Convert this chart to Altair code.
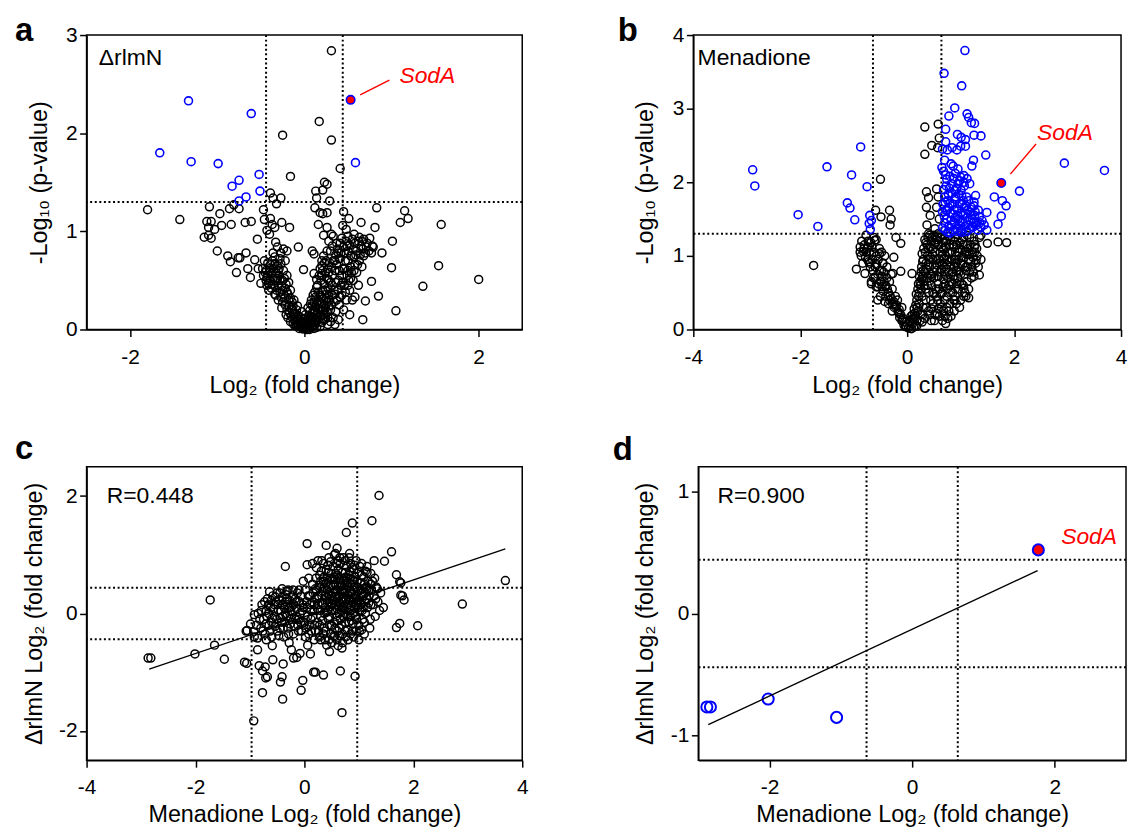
import altair as alt
import pandas as pd

FONT = "Liberation Sans"
BLUE = "#0000FF"
RED = "#FF0000"

# ---------------- Panel a : ΔrlmN volcano ----------------
a_black = [
    (0.31, 2.84), (0.17, 2.12), (-0.25, 1.98), (0.31, 1.93), (0.41, 1.64), (-0.16, 1.56),
    (0.23, 1.50), (0.26, 1.48), (0.13, 1.41), (0.21, 1.42), (0.14, 1.34), (0.29, 1.31),
    (-0.39, 1.39), (-0.36, 1.34), (-0.27, 1.34), (-0.32, 1.28),
    (-1.80, 1.22), (-1.43, 1.12), (-1.09, 1.25), (-0.97, 1.18), (-0.86, 1.23), (-0.81, 1.27), (-0.75, 1.23),
    (-1.12, 1.10), (-1.07, 1.10), (-1.10, 1.04), (-1.03, 1.02), (-0.95, 1.06), (-0.84, 1.07), (-0.68, 1.09),
    (-0.61, 1.10), (-1.15, 0.94), (-1.10, 0.96), (-1.07, 0.93), (-1.00, 0.80), (-0.88, 0.75), (-0.85, 0.69),
    (-0.76, 0.73), (-0.74, 0.73), (-0.67, 0.78), (-0.57, 0.71), (-0.78, 0.58), (-0.65, 0.62), (-0.62, 0.53),
    (-0.53, 0.62), (-0.50, 0.47), (-0.54, 0.92), (-0.47, 1.22), (-0.46, 1.12), (-0.39, 1.13), (-0.43, 1.01),
    (-0.40, 0.97), (-0.34, 1.04), (-0.37, 1.07), (-0.26, 1.09), (-0.17, 1.04), (-0.33, 0.89), (-0.31, 0.84),
    (-0.24, 0.82), (-0.20, 0.80), (-0.07, 0.84), (-0.01, 0.61), (0.09, 0.80), (0.11, 0.77), (-0.34, 0.67),
    (-0.27, 0.67), (-0.40, 0.59), (-0.43, 0.53), (-0.33, 0.35), (-0.25, 0.40),
    (0.12, 1.24), (0.18, 1.19), (0.21, 1.18), (0.26, 1.19), (0.45, 1.20), (0.51, 1.13), (0.16, 1.07),
    (0.26, 1.04), (0.31, 0.97), (0.22, 0.96), (0.44, 1.06), (0.48, 1.02), (0.65, 1.09), (0.83, 1.24),
    (0.81, 1.04), (1.10, 1.09), (1.15, 1.21), (1.19, 1.13), (1.57, 1.07), (1.01, 0.90), (0.89, 0.78),
    (0.77, 0.78), (0.79, 0.84), (1.00, 0.63), (1.54, 0.65), (2.00, 0.51), (1.36, 0.44), (1.05, 0.19),
    (0.85, 0.34), (0.70, 0.29), (0.77, 0.49), (0.67, 0.10), (0.58, 0.33), (0.52, 0.15), (0.20, 0.65),
    (0.28, 0.50), (0.11, 0.57), (0.14, 0.43),
]
a_black_core = [
    (-0.48, 0.62), (-0.45, 0.58), (-0.42, 0.55), (-0.40, 0.62), (-0.38, 0.57), (-0.36, 0.52), (-0.44, 0.50),
    (-0.41, 0.47), (-0.35, 0.45), (-0.33, 0.50), (-0.38, 0.42), (-0.32, 0.40), (-0.30, 0.45), (-0.28, 0.38),
    (-0.34, 0.36), (-0.27, 0.33), (-0.30, 0.30), (-0.25, 0.28), (-0.23, 0.32), (-0.22, 0.25), (-0.26, 0.22),
    (-0.20, 0.20), (-0.18, 0.24), (-0.17, 0.17), (-0.21, 0.15), (-0.15, 0.13), (-0.13, 0.16), (-0.12, 0.10),
    (-0.16, 0.08), (-0.10, 0.07), (-0.08, 0.09), (-0.07, 0.05), (-0.11, 0.04), (-0.05, 0.03), (-0.03, 0.02),
    (-0.06, 0.01), (-0.02, 0.005), (-0.29, 0.55), (-0.25, 0.50), (-0.22, 0.42), (-0.19, 0.36), (-0.24, 0.60),
    (-0.31, 0.65), (-0.37, 0.70), (-0.14, 0.28), (-0.28, 0.72), (-0.20, 0.55), (-0.42, 0.68), (-0.46, 0.70),
    (-0.36, 0.78), (-0.30, 0.60), (-0.16, 0.40), (-0.12, 0.30), (-0.09, 0.20), (-0.04, 0.12),
    (0.00, 0.01), (0.02, 0.02), (0.04, 0.00), (0.06, 0.03), (0.03, 0.05), (0.08, 0.06), (0.05, 0.08),
    (0.10, 0.04), (0.09, 0.10), (0.12, 0.12), (0.07, 0.13), (0.14, 0.09), (0.11, 0.18), (0.15, 0.16),
    (0.17, 0.21), (0.13, 0.23), (0.19, 0.14), (0.20, 0.26), (0.16, 0.29), (0.22, 0.31), (0.18, 0.35),
    (0.24, 0.22), (0.25, 0.36), (0.21, 0.40), (0.27, 0.42), (0.23, 0.46), (0.29, 0.30), (0.30, 0.48),
    (0.26, 0.52), (0.32, 0.55), (0.28, 0.58), (0.34, 0.40), (0.35, 0.60), (0.31, 0.64), (0.37, 0.66),
    (0.33, 0.70), (0.39, 0.50), (0.40, 0.72), (0.36, 0.76), (0.42, 0.78), (0.38, 0.82), (0.44, 0.62),
    (0.45, 0.84), (0.41, 0.88), (0.47, 0.70), (0.48, 0.90), (0.50, 0.80), (0.52, 0.86), (0.55, 0.92),
    (0.58, 0.88), (0.60, 0.80), (0.62, 0.90), (0.65, 0.85), (0.68, 0.92), (0.70, 0.78), (0.72, 0.88),
    (0.75, 0.93), (0.78, 0.85), (0.57, 0.74), (0.63, 0.70), (0.53, 0.64), (0.49, 0.55), (0.46, 0.45),
    (0.43, 0.35), (0.40, 0.25), (0.36, 0.18), (0.33, 0.12), (0.30, 0.08), (0.27, 0.05), (0.52, 0.40),
    (0.48, 0.30), (0.56, 0.50), (0.60, 0.58), (0.66, 0.64), (0.45, 0.20), (0.39, 0.10), (0.55, 0.30),
    (0.62, 0.45), (0.35, 0.05), (0.20, 0.55), (0.15, 0.45), (0.12, 0.38), (0.18, 0.62), (0.25, 0.70),
    (0.30, 0.80), (0.22, 0.75), (0.28, 0.90), (0.33, 0.95), (0.19, 0.50), (0.08, 0.02), (0.12, 0.05),
    (0.16, 0.10), (0.22, 0.15), (0.26, 0.18), (0.31, 0.25), (0.37, 0.30), (0.42, 0.45), (0.50, 0.60),
    (0.58, 0.66), (0.68, 0.75),
    (-0.02, 0.03), (0.01, 0.06), (0.03, 0.10), (0.05, 0.14), (-0.04, 0.07), (0.00, 0.11), (0.06, 0.19),
    (0.09, 0.24), (0.11, 0.28), (0.13, 0.33), (0.08, 0.30), (0.10, 0.35), (0.16, 0.38), (0.14, 0.51),
    (0.17, 0.55), (0.21, 0.60), (0.24, 0.58), (0.27, 0.62), (0.24, 0.40), (0.28, 0.35), (0.32, 0.35),
    (0.30, 0.20), (0.34, 0.28), (0.38, 0.40), (0.41, 0.33), (0.36, 0.48), (0.40, 0.60), (0.43, 0.55),
    (0.46, 0.62), (0.50, 0.70), (0.53, 0.75), (0.56, 0.82), (0.59, 0.76), (0.46, 0.78), (0.49, 0.85),
    (0.51, 0.50), (0.54, 0.58), (0.44, 0.48), (0.47, 0.38), (0.50, 0.45), (0.53, 0.52), (0.57, 0.60),
    (0.61, 0.66), (0.64, 0.76), (0.67, 0.82), (0.71, 0.84), (0.74, 0.80), (0.66, 0.90), (0.63, 0.94),
    (0.57, 0.97), (0.50, 0.95), (0.43, 0.93), (0.37, 0.88), (0.32, 0.85), (0.26, 0.80), (0.23, 0.68),
    (0.20, 0.70), (0.35, 0.70), (0.39, 0.78), (0.29, 0.68), (0.18, 0.28), (0.20, 0.33), (0.22, 0.20),
    (0.26, 0.28), (0.23, 0.10), (0.20, 0.07), (0.18, 0.03), (0.14, 0.02), (0.11, 0.01), (0.06, 0.00),
    (0.02, 0.00), (-0.01, 0.02), (-0.09, 0.12), (-0.11, 0.15), (-0.14, 0.20), (-0.13, 0.24), (-0.16, 0.32),
    (-0.18, 0.30), (-0.20, 0.38), (-0.21, 0.46), (-0.23, 0.52), (-0.26, 0.44), (-0.28, 0.50), (-0.29, 0.62),
    (-0.33, 0.58), (-0.35, 0.62), (-0.39, 0.50), (-0.41, 0.40), (-0.37, 0.46), (-0.44, 0.60), (-0.47, 0.55),
    (-0.43, 0.45), (-0.39, 0.66), (-0.34, 0.74), (-0.27, 0.78), (-0.22, 0.70), (-0.18, 0.48), (-0.15, 0.22),
    (-0.10, 0.16), (-0.07, 0.14), (-0.24, 0.36), (-0.31, 0.52),
    (-0.13, 0.06), (-0.09, 0.04), (-0.05, 0.08), (-0.01, 0.05), (0.03, 0.02), (0.07, 0.08), (0.10, 0.13),
    (0.13, 0.07), (0.15, 0.12), (0.17, 0.08), (0.19, 0.20), (0.21, 0.11), (0.24, 0.16), (0.01, 0.15),
    (-0.03, 0.18), (0.04, 0.22), (0.07, 0.26), (0.12, 0.20), (0.14, 0.26), (0.16, 0.22), (0.09, 0.17),
    (-0.08, 0.24), (-0.19, 0.12), (0.27, 0.12), (0.28, 0.24), (0.25, 0.32), (0.32, 0.45), (0.35, 0.36),
]
a_blue = [
    (-1.33, 2.33), (-0.61, 2.20), (-1.66, 1.80), (-1.30, 1.71), (-0.99, 1.69), (-0.52, 1.58),
    (-0.75, 1.52), (-0.83, 1.46), (-0.51, 1.41), (-0.67, 1.35), (-0.75, 1.31), (0.586, 1.70),
]
a_soda = [(0.53, 2.34)]
a_soda_line = [(0.64, 2.39), (0.975, 2.54)]
a_soda_text = [(1.09, 2.51, "SodA")]
a_label = [(-2.36, 2.69, "ΔrlmN")]
a_vlines = [-0.44, 0.44]
a_hlines = [1.30]

# ---------------- Panel b : Menadione volcano ----------------
b_black = [
    (0.33, 2.75), (0.58, 2.79), (0.60, 2.60), (0.57, 2.47), (0.46, 2.50), (0.33, 2.38), (-0.50, 2.04),
    (-0.59, 1.62), (-0.33, 1.62), (-0.49, 1.53), (-0.30, 1.50), (-0.32, 1.42),
    (0.36, 1.87), (0.55, 1.91), (0.40, 1.79), (0.58, 1.80), (0.36, 1.66), (0.55, 1.66), (0.43, 1.55),
    (0.60, 1.50), (0.37, 1.42), (0.52, 1.37), (0.40, 1.30), (0.58, 1.30),
    (-0.77, 1.28), (-0.88, 1.12), (-0.82, 1.06), (-0.73, 1.12), (-0.61, 1.21), (-0.52, 1.03), (-0.46, 0.90),
    (-0.70, 0.90), (-0.79, 0.76), (-0.67, 0.65), (-0.58, 0.58), (-0.55, 0.40), (-0.40, 0.58), (-0.33, 0.40),
    (-0.27, 0.76), (-0.21, 0.31), (-0.15, 0.22), (-0.12, 0.79), (-0.09, 0.13), (-0.03, 0.04), (-0.25, 0.98),
    (-0.95, 0.82), (-1.75, 0.87), (-0.21, 1.25), (-0.12, 1.17),
    (1.38, 1.28), (1.50, 1.17), (1.70, 1.19), (1.86, 1.18), (1.26, 1.12), (1.29, 0.94), (1.35, 0.74),
    (1.25, 0.72), (1.15, 0.43), (0.89, 0.40), (0.71, 0.18), (1.06, 0.56), (1.10, 0.85), (0.09, 0.76),
    (0.28, 1.03),
]
b_black_core = [
    (0.02, 0.02), (0.05, 0.05), (0.08, 0.01), (0.10, 0.08), (0.04, 0.12), (0.12, 0.15), (0.15, 0.05),
    (0.07, 0.18), (0.18, 0.12), (0.14, 0.22), (-0.02, 0.04), (-0.05, 0.10), (-0.08, 0.15), (-0.12, 0.20),
    (-0.15, 0.27), (-0.20, 0.33), (-0.25, 0.38), (-0.22, 0.45), (-0.30, 0.42), (-0.35, 0.50), (-0.28, 0.55),
    (-0.40, 0.60), (-0.45, 0.52), (-0.38, 0.70), (-0.50, 0.65), (-0.55, 0.75), (-0.48, 0.80), (-0.60, 0.85),
    (-0.65, 0.95), (-0.58, 1.00), (-0.70, 1.05), (-0.75, 1.10), (-0.68, 1.18), (-0.80, 1.15), (-0.85, 1.20),
    (-0.62, 1.25), (-0.72, 0.92), (-0.78, 0.98), (-0.52, 1.10), (-0.45, 0.90), (-0.42, 1.00), (-0.33, 0.65),
    (-0.30, 0.75), (-0.18, 0.40), (-0.10, 0.30), (-0.55, 0.58), (-0.63, 0.70), (-0.67, 0.62), (-0.50, 0.45),
    (-0.42, 0.38), (-0.58, 1.22), (-0.88, 1.05), (-0.83, 0.90),
    (0.20, 0.25), (0.22, 0.35), (0.25, 0.20), (0.18, 0.40), (0.28, 0.45), (0.30, 0.30), (0.26, 0.55),
    (0.32, 0.60), (0.35, 0.40), (0.24, 0.65), (0.38, 0.70), (0.40, 0.50), (0.30, 0.80), (0.42, 0.85),
    (0.45, 0.60), (0.35, 0.90), (0.48, 0.95), (0.50, 0.70), (0.38, 1.00), (0.52, 1.05), (0.55, 0.80),
    (0.40, 1.10), (0.58, 1.15), (0.60, 0.90), (0.45, 1.20), (0.62, 1.25), (0.65, 1.00), (0.50, 1.28),
    (0.68, 1.10), (0.70, 0.75), (0.72, 1.20), (0.75, 0.95), (0.78, 1.27), (0.80, 1.05), (0.82, 0.65),
    (0.85, 1.15), (0.88, 0.85), (0.90, 1.25), (0.92, 1.00), (0.95, 0.70), (0.98, 1.10), (1.00, 0.90),
    (1.02, 1.22), (1.05, 0.60), (1.08, 1.05), (1.10, 0.80), (1.12, 1.28), (1.15, 0.95), (1.18, 1.15),
    (1.20, 0.70), (1.22, 1.05), (1.25, 1.20), (1.28, 0.90), (1.30, 1.10), (1.35, 1.25), (1.38, 0.95),
    (0.33, 0.15), (0.40, 0.25), (0.48, 0.35), (0.55, 0.45), (0.60, 0.55), (0.65, 0.50), (0.75, 0.55),
    (0.85, 0.50), (0.62, 0.35), (0.70, 0.40), (0.52, 0.20), (0.45, 0.12), (0.58, 0.28), (0.68, 0.25),
    (0.80, 0.35), (0.90, 0.45), (1.00, 0.40), (0.35, 1.18), (0.42, 1.28), (0.55, 1.22), (0.65, 1.28),
    (0.72, 1.00), (0.88, 1.20), (0.95, 1.28), (1.05, 1.15), (0.58, 0.62), (0.68, 0.68), (0.78, 0.78),
    (0.92, 0.80), (1.00, 0.75), (1.12, 0.65), (0.48, 0.50), (0.36, 0.30), (0.28, 0.10), (0.44, 0.75),
    (0.54, 0.95), (0.64, 0.82), (0.74, 0.88), (0.84, 0.95), (0.96, 0.95), (1.06, 0.98), (1.16, 1.02),
    (1.26, 1.05), (0.34, 1.05), (0.30, 0.95), (0.27, 0.85), (0.86, 0.72), (1.08, 0.50), (0.82, 0.18),
    (0.88, 0.25), (0.98, 0.30), (1.10, 0.45), (1.15, 0.55), (0.76, 0.15), (0.72, 0.08), (0.90, 0.55),
    (0.10, 0.20), (0.13, 0.28), (0.16, 0.33), (0.19, 0.30), (0.21, 0.45), (0.23, 0.50), (0.20, 0.55),
    (0.17, 0.48), (0.25, 0.60), (0.27, 0.68), (0.29, 0.72), (0.31, 0.66), (0.33, 0.78), (0.36, 0.82),
    (0.39, 0.88), (0.41, 0.95), (0.44, 0.98), (0.47, 1.02), (0.49, 1.10), (0.51, 1.15), (0.53, 1.18),
    (0.56, 1.25), (0.47, 1.25), (0.43, 1.12), (0.37, 1.15), (0.33, 1.22), (0.39, 1.25), (0.31, 1.10),
    (0.29, 0.92), (0.26, 0.78), (0.23, 0.72), (0.21, 0.62), (0.35, 0.55), (0.38, 0.60), (0.42, 0.66),
    (0.46, 0.72), (0.49, 0.78), (0.52, 0.84), (0.55, 0.88), (0.59, 0.96), (0.62, 1.05), (0.64, 1.12),
    (0.67, 1.18), (0.70, 1.24), (0.73, 1.12), (0.76, 1.05), (0.79, 1.15), (0.81, 1.22), (0.84, 1.05),
    (0.87, 1.12), (0.89, 0.95), (0.93, 1.15), (0.96, 1.05), (0.99, 1.18), (1.03, 1.08), (1.06, 1.25),
    (1.09, 1.15), (1.11, 1.02), (1.14, 1.10), (1.17, 1.25), (1.19, 0.92), (1.23, 0.98), (1.27, 1.15),
    (1.31, 1.00), (1.33, 0.85), (0.58, 0.72), (0.61, 0.78), (0.66, 0.88), (0.69, 0.95), (0.73, 0.82),
    (0.76, 0.70), (0.79, 0.92), (0.82, 0.85), (0.85, 0.78), (0.88, 0.68), (0.91, 0.90), (0.94, 0.85),
    (0.97, 0.78), (1.01, 0.98), (1.04, 0.88), (1.07, 0.75), (1.13, 0.85), (1.17, 0.78), (1.21, 0.85),
    (1.24, 0.78), (0.44, 0.40), (0.50, 0.48), (0.54, 0.55), (0.57, 0.40), (0.63, 0.48), (0.67, 0.58),
    (0.71, 0.62), (0.74, 0.45), (0.78, 0.60), (0.81, 0.50), (0.84, 0.62), (0.87, 0.40), (0.93, 0.62),
    (0.96, 0.55), (1.02, 0.62), (1.06, 0.45), (0.42, 0.20), (0.46, 0.28), (0.51, 0.12), (0.55, 0.22),
    (0.60, 0.18), (0.64, 0.30), (0.66, 0.12), (0.74, 0.30), (0.78, 0.25), (0.92, 0.35), (0.30, 0.20),
    (0.24, 0.12), (0.18, 0.05), (0.12, 0.03), (0.06, 0.10), (0.09, 0.14), (0.15, 0.18), (-0.06, 0.06),
    (-0.10, 0.12), (-0.14, 0.16), (-0.17, 0.24), (-0.24, 0.30), (-0.27, 0.34), (-0.32, 0.46), (-0.37, 0.55),
    (-0.43, 0.65), (-0.47, 0.72), (-0.52, 0.80), (-0.57, 0.88), (-0.62, 1.05), (-0.66, 1.12), (-0.73, 1.20),
    (-0.77, 1.05), (-0.81, 1.10), (-0.86, 1.00), (-0.60, 0.70), (-0.53, 0.62), (-0.47, 0.58), (-0.40, 0.45),
    (-0.35, 0.35), (-0.28, 0.25), (-0.64, 0.80), (-0.69, 0.85), (-0.74, 0.95), (-0.54, 0.95), (-0.48, 1.05),
    (-0.44, 0.78), (-0.38, 0.85),
]
b_blue = [
    (1.08, 3.79), (0.69, 3.48), (1.02, 3.31), (0.89, 3.01), (0.78, 2.90), (1.12, 2.93), (1.15, 2.88),
    (1.20, 2.81), (1.26, 2.80), (0.72, 2.72), (0.94, 2.65), (1.01, 2.61), (1.09, 2.58), (1.25, 2.64),
    (1.38, 2.63), (0.75, 2.44), (0.84, 2.47), (0.93, 2.44), (1.00, 2.49), (1.09, 2.49), (-0.87, 2.48),
    (1.47, 2.37), (1.24, 2.30), (1.21, 2.22), (-2.89, 2.17), (-2.85, 1.95), (-1.50, 2.21), (-1.04, 2.10),
    (-0.75, 1.94), (-1.12, 1.72), (-1.07, 1.65), (-0.98, 1.49), (-2.04, 1.56), (-1.67, 1.40),
    (-0.70, 1.55), (-0.67, 1.48), (-0.71, 1.44), (-0.69, 1.36), (2.94, 2.26), (2.10, 1.88), (1.63, 1.80),
    (1.78, 1.75), (1.85, 1.68), (1.76, 1.54), (1.70, 1.43), (1.49, 1.59), (1.28, 1.82), (1.25, 1.73),
    (3.69, 2.16),
]
b_blue_core = [
    (0.65, 2.20), (0.68, 2.15), (0.86, 2.22), (0.95, 2.18), (1.00, 2.07), (1.06, 2.09), (1.17, 1.98),
    (0.74, 2.04), (0.83, 1.98), (0.92, 1.91), (1.01, 1.89), (1.11, 1.80), (0.77, 1.84), (0.89, 1.77),
    (0.98, 1.71), (1.07, 1.66), (1.17, 1.59), (1.26, 1.55), (1.35, 1.53), (1.44, 1.42), (0.77, 1.66),
    (0.86, 1.57), (0.95, 1.50), (1.04, 1.46), (1.14, 1.42), (1.23, 1.39), (1.32, 1.35), (0.74, 1.50),
    (0.83, 1.42), (0.92, 1.37), (1.01, 1.35), (1.11, 1.33), (0.71, 1.35), (0.80, 1.31), (0.89, 1.89),
    (1.07, 1.95), (0.71, 1.73), (0.80, 1.71), (1.20, 1.66), (1.29, 1.46), (1.38, 1.39), (1.49, 1.35),
    (0.66, 1.60), (0.70, 1.45), (0.75, 1.62), (0.82, 1.48), (0.88, 1.62), (0.94, 1.55), (1.00, 1.58),
    (1.05, 1.75), (1.12, 1.52), (1.18, 1.48), (0.68, 1.90), (0.72, 2.10), (0.80, 2.08), (0.95, 1.98),
    (1.02, 1.82), (1.10, 1.68), (0.78, 1.40), (0.85, 1.34), (0.97, 1.42), (1.08, 1.40), (1.22, 1.50),
    (0.66, 1.38), (0.70, 1.80), (1.15, 1.75), (1.25, 1.68),
    (0.67, 1.70), (0.69, 1.55), (0.72, 1.62), (0.73, 1.95), (0.76, 1.75), (0.79, 1.92), (0.81, 1.58),
    (0.84, 1.85), (0.86, 1.70), (0.87, 2.05), (0.90, 1.52), (0.91, 1.80), (0.93, 1.64), (0.96, 1.84),
    (0.99, 1.48), (1.03, 1.70), (1.04, 1.55), (1.06, 2.00), (1.09, 1.58), (1.13, 1.62), (1.16, 1.36),
    (1.19, 1.56), (1.21, 1.40), (1.24, 1.45), (1.27, 1.60), (1.30, 1.42), (1.33, 1.62), (1.36, 1.45),
    (1.40, 1.48), (0.98, 2.02), (0.90, 2.12), (0.82, 2.25), (0.70, 2.30), (0.66, 2.45), (0.72, 2.55),
    (1.12, 2.05), (1.02, 1.32), (0.94, 1.33), (0.88, 1.45), (0.76, 1.32),
]
b_soda = [(1.76, 1.99)]
b_soda_line = [(1.93, 2.11), (2.41, 2.52)]
b_soda_text = [(2.43, 2.57, "SodA")]
b_label = [(-3.92, 3.59, "Menadione")]
b_vlines = [-0.64, 0.64]
b_hlines = [1.30]

# ---------------- Panel c : correlation, all proteins ----------------
c_points = [
    (1.37, 2.01), (1.24, 1.58), (0.88, 1.54), (0.77, 1.38), (0.05, 1.19), (0.40, 1.16), (0.60, 1.11),
    (0.57, 1.02), (0.83, 1.02), (1.60, 1.05), (1.47, 0.89), (1.28, 0.90), (-0.35, 0.80), (0.05, 0.83),
    (1.69, 0.66), (1.75, 0.54), (1.77, 0.31), (1.83, 0.23), (1.80, 0.30), (2.90, 0.16), (-1.73, 0.23),
    (1.75, -0.17), (1.69, -0.24), (2.08, -0.21), (-0.64, 0.37), (-0.41, 0.42), (-0.32, 0.38),
    (-1.05, -0.29), (-2.82, -0.76), (-2.87, -0.76), (-2.01, -0.69), (-1.65, -0.54), (-1.47, -0.78),
    (-1.10, -0.83), (-1.06, -0.85), (-0.86, -0.62), (-0.58, -0.79), (-0.83, -0.89), (-0.72, -0.91),
    (-0.77, -0.98), (-0.68, -1.08), (-0.71, -1.10), (-0.39, -0.86), (-0.41, -1.08), (-0.44, -1.17),
    (-0.77, -1.35), (-0.40, -1.46), (-0.06, -1.31), (-0.03, -1.14), (-0.14, -0.75), (-0.20, -0.76),
    (-0.08, -0.68), (0.11, -0.69), (0.06, -0.54), (0.17, -1.00), (0.20, -1.00), (0.35, -1.05),
    (0.66, -0.98), (0.93, -1.07), (0.69, -1.69), (-0.93, -1.83), (0.46, -0.65), (0.69, -0.59),
    (0.41, -0.54), (-0.24, -0.62), (-0.28, -0.50), (-0.59, -0.55), (-0.86, -0.42), (-0.93, -0.31),
    (-1.07, -0.30), (-0.99, -0.18), (-0.92, -0.02), (3.69, 0.56), (1.77, 0.52),
]
c_core = [
    (0.05, 0.10), (0.10, 0.30), (0.12, -0.10), (0.15, 0.50), (0.18, 0.05), (0.20, -0.30), (0.22, 0.40),
    (0.25, 0.15), (0.28, 0.65), (0.30, -0.05), (0.32, 0.30), (0.35, 0.55), (0.36, -0.25), (0.38, 0.10),
    (0.40, 0.75), (0.42, 0.40), (0.44, -0.10), (0.45, 0.20), (0.47, 0.60), (0.48, -0.35), (0.50, 0.05),
    (0.52, 0.35), (0.53, 0.80), (0.55, -0.15), (0.56, 0.50), (0.58, 0.15), (0.60, 0.65), (0.61, -0.30),
    (0.62, 0.30), (0.64, 0.00), (0.65, 0.45), (0.66, 0.85), (0.68, -0.20), (0.70, 0.20), (0.71, 0.55),
    (0.72, -0.05), (0.74, 0.35), (0.75, 0.70), (0.76, -0.40), (0.78, 0.10), (0.80, 0.45), (0.81, 0.25),
    (0.82, -0.15), (0.84, 0.60), (0.85, 0.05), (0.86, 0.35), (0.88, -0.30), (0.90, 0.20), (0.91, 0.75),
    (0.92, 0.45), (0.94, -0.05), (0.95, 0.30), (0.97, 0.55), (0.98, 0.10), (1.00, -0.20), (1.02, 0.40),
    (1.04, 0.15), (1.05, 0.65), (1.07, -0.10), (1.08, 0.30), (1.10, 0.50), (1.12, 0.00), (1.14, 0.25),
    (1.15, 0.70), (1.18, 0.40), (1.20, -0.25), (1.22, 0.15), (1.25, 0.55), (1.28, 0.30), (1.30, -0.05),
    (1.32, 0.45), (1.35, 0.20), (1.40, 0.35), (1.45, 0.10), (0.08, 0.60), (0.15, 0.85), (0.25, 0.90),
    (0.35, 0.85), (0.45, 0.95), (0.55, 1.00), (0.65, 0.95), (0.75, 0.90), (0.85, 0.85), (0.95, 0.90),
    (1.05, 0.85), (1.15, 0.80), (0.02, 0.40), (0.00, -0.15), (0.08, -0.35), (0.18, -0.45), (0.28, -0.40),
    (0.38, -0.45), (0.50, -0.50), (0.60, -0.45), (0.70, -0.50), (0.80, -0.45), (0.90, -0.40), (1.00, -0.45),
    (1.10, -0.35), (0.42, 0.18), (0.52, 0.22), (0.62, 0.12), (0.72, 0.28), (0.82, 0.08), (0.58, 0.40),
    (0.68, 0.38), (0.78, 0.52), (0.88, 0.58), (0.48, 0.48), (0.38, 0.30), (0.58, -0.05), (0.68, 0.05),
    (0.46, -0.20), (0.56, -0.25), (0.66, -0.10), (0.86, -0.12), (0.96, 0.15), (0.74, 0.48), (0.64, 0.60),
    (0.54, 0.62), (0.44, 0.70), (0.34, 0.15), (0.24, -0.15), (0.14, 0.20), (0.06, -0.05), (0.30, 0.45),
    (0.92, 0.25), (1.02, 0.05), (0.76, 0.62), (0.84, 0.22), (0.70, 0.10), (0.60, 0.25), (0.50, 0.30),
    (0.40, 0.52), (0.80, -0.05), (0.90, 0.00),
    (0.12, 0.05), (0.16, 0.35), (0.19, -0.20), (0.21, 0.60), (0.23, 0.25), (0.26, -0.30), (0.27, 0.48),
    (0.29, 0.05), (0.31, 0.72), (0.33, -0.12), (0.34, 0.38), (0.36, 0.62), (0.37, 0.00), (0.39, -0.30),
    (0.41, 0.28), (0.43, 0.82), (0.43, 0.05), (0.45, 0.45), (0.46, -0.05), (0.47, 0.25), (0.49, 0.68),
    (0.50, -0.20), (0.51, 0.15), (0.53, 0.48), (0.54, -0.38), (0.55, 0.28), (0.57, 0.58), (0.57, 0.05),
    (0.59, 0.85), (0.60, -0.12), (0.61, 0.40), (0.62, 0.75), (0.63, 0.20), (0.64, -0.25), (0.66, 0.52),
    (0.67, 0.15), (0.69, 0.70), (0.70, -0.35), (0.71, 0.38), (0.72, 0.12), (0.73, 0.60), (0.75, -0.15),
    (0.76, 0.25), (0.77, 0.80), (0.78, 0.40), (0.79, -0.28), (0.80, 0.15), (0.82, 0.65), (0.83, 0.35),
    (0.84, -0.05), (0.85, 0.50), (0.87, 0.25), (0.88, 0.78), (0.89, -0.18), (0.90, 0.40), (0.92, 0.10),
    (0.93, 0.62), (0.94, 0.30), (0.96, -0.10), (0.97, 0.45), (0.99, 0.22), (1.00, 0.70), (1.01, -0.30),
    (1.03, 0.30), (1.04, 0.52), (1.06, 0.05), (1.07, 0.42), (1.09, 0.62), (1.10, -0.15), (1.11, 0.20),
    (1.13, 0.45), (1.16, 0.10), (1.17, 0.55), (1.19, 0.30), (1.21, -0.10), (1.23, 0.40), (1.26, 0.15),
    (1.29, 0.60), (1.31, 0.25), (1.34, 0.42), (1.38, 0.05), (0.15, -0.05), (0.18, 0.15), (0.20, 0.42),
    (0.24, 0.08), (0.26, 0.30), (0.28, -0.20), (0.30, 0.55), (0.32, 0.18), (0.35, -0.35), (0.37, 0.45),
    (0.40, 0.02), (0.42, 0.60), (0.44, 0.32), (0.48, 0.12), (0.52, 0.58), (0.56, 0.38), (0.58, 0.68),
    (0.60, 0.08), (0.65, 0.30), (0.68, 0.48), (0.71, 0.25), (0.74, 0.00), (0.77, 0.55), (0.80, 0.32),
    (0.83, 0.72), (0.86, 0.12), (0.91, 0.55), (0.95, 0.18), (0.98, 0.38), (1.02, 0.20), (1.05, 0.35),
    (1.08, 0.10), (1.12, 0.35), (1.15, 0.42), (1.18, 0.18), (1.22, 0.50), (0.10, 0.15), (0.07, 0.30),
    (0.04, 0.20), (-0.02, 0.10), (0.03, -0.25), (0.09, -0.20), (0.13, -0.30), (0.22, 0.78), (0.32, 0.90),
    (0.48, 0.88), (0.62, 0.90), (0.72, 0.95), (0.82, 0.95), (0.92, 0.82), (1.02, 0.80), (1.12, 0.72),
    (1.22, 0.68), (0.45, -0.45), (0.55, -0.40), (0.65, -0.38), (0.75, -0.30), (0.85, -0.35), (0.95, -0.30),
    (1.05, -0.28), (0.30, -0.45), (0.62, -0.55),
]
c_left = [
    (-0.85, 0.00), (-0.80, -0.25), (-0.78, 0.15), (-0.75, -0.10), (-0.72, -0.35), (-0.70, 0.05),
    (-0.68, 0.25), (-0.65, -0.20), (-0.62, 0.10), (-0.60, -0.40), (-0.58, 0.30), (-0.55, -0.05),
    (-0.52, 0.20), (-0.50, -0.30), (-0.48, 0.05), (-0.45, 0.35), (-0.42, -0.15), (-0.40, 0.15),
    (-0.38, -0.40), (-0.35, 0.00), (-0.32, 0.25), (-0.30, -0.25), (-0.28, 0.10), (-0.25, -0.10),
    (-0.22, 0.30), (-0.20, -0.35), (-0.18, 0.05), (-0.15, 0.20), (-0.12, -0.20), (-0.10, 0.40),
    (-0.08, 0.00), (-0.05, -0.30), (-0.03, 0.15), (-0.65, 0.00), (-0.55, 0.15), (-0.45, -0.25),
    (-0.35, 0.20), (-0.25, 0.05), (-0.15, -0.05), (-0.60, -0.15), (-0.50, 0.35), (-0.40, -0.05),
    (-0.30, 0.40), (-0.20, 0.15), (-0.10, -0.10), (-0.88, -0.20), (-0.92, -0.40), (-0.70, -0.45),
    (-0.02, 0.55), (0.02, -0.40),
    (-0.82, -0.10), (-0.79, 0.05), (-0.76, -0.30), (-0.73, 0.20), (-0.71, -0.18), (-0.69, -0.05),
    (-0.66, 0.15), (-0.63, -0.30), (-0.61, 0.22), (-0.59, -0.08), (-0.57, 0.08), (-0.54, -0.22),
    (-0.53, 0.28), (-0.51, -0.10), (-0.49, 0.15), (-0.47, -0.38), (-0.46, 0.22), (-0.44, -0.08),
    (-0.43, 0.05), (-0.41, 0.28), (-0.39, -0.25), (-0.37, 0.10), (-0.36, -0.15), (-0.34, 0.32),
    (-0.33, -0.05), (-0.31, 0.15), (-0.29, -0.35), (-0.27, 0.22), (-0.26, -0.18), (-0.24, 0.12),
    (-0.23, -0.02), (-0.21, 0.40), (-0.19, -0.22), (-0.17, 0.25), (-0.16, -0.10), (-0.14, 0.08),
    (-0.13, 0.35), (-0.11, -0.30), (-0.09, 0.20), (-0.07, -0.15), (-0.06, 0.30), (-0.04, 0.05),
    (-0.01, -0.20),
]
c_fit = [(-2.85, -0.95), (3.69, 1.10)]
c_label = [(-3.63, 1.88, "R=0.448")]
c_vlines = [-0.97, 0.97]
c_hlines = [-0.44, 0.44]

# ---------------- Panel d : correlation, significant proteins ----------------
d_blue = [(-2.88, -0.765), (-2.83, -0.765), (-2.02, -0.70), (-1.06, -0.85)]
d_soda = [(1.77, 0.52)]
d_fit = [(-2.86, -0.91), (1.76, 0.35)]
d_soda_text = [(2.09, 0.57, "SodA")]
d_label = [(-2.73, 0.90, "R=0.900")]
d_vlines = [-0.64, 0.64]
d_hlines = [-0.44, 0.44]


def pts(p):
    return pd.DataFrame(p, columns=["x", "y"])


def txt(p):
    return pd.DataFrame(p, columns=["x", "y", "t"])


LABEL_EXPR = "'' + datum.value"


def panel(letter, letter_xy, width, height, xdom, ydom, xvals, yvals, xtitle, ytitle, ytp, xtp,
          vlines, hlines, black=None, blue=None, soda=None, soda_line=None, soda_text=None,
          label=None, fit=None, psize=64, bsize=64, ssize=72, bstroke=1.6):
    X = alt.X("x:Q", scale=alt.Scale(domain=xdom, nice=False, zero=False),
              axis=alt.Axis(values=xvals, title=xtitle, labelExpr=LABEL_EXPR, labelFlush=False,
                            titlePadding=xtp))
    Y = alt.Y("y:Q", scale=alt.Scale(domain=ydom, nice=False, zero=False),
              axis=alt.Axis(values=yvals, title=ytitle, labelExpr=LABEL_EXPR, labelFlush=False,
                            titlePadding=ytp))
    layers = []
    dot = dict(strokeDash=[2, 2.6], strokeWidth=2, color="black")
    layers.append(alt.Chart(pd.DataFrame({"x": vlines})).mark_rule(**dot).encode(x=X))
    layers.append(alt.Chart(pd.DataFrame({"y": hlines})).mark_rule(**dot).encode(y=Y))
    if black:
        layers.append(alt.Chart(pts(black)).mark_point(
            shape="circle", filled=False, color="black", size=psize, strokeWidth=1.5, opacity=1
        ).encode(x=X, y=Y))
    if blue:
        layers.append(alt.Chart(pts(blue)).mark_point(
            shape="circle", filled=False, color=BLUE, size=bsize, strokeWidth=bstroke, opacity=1
        ).encode(x=X, y=Y))
    if fit:
        layers.append(alt.Chart(pts(fit)).mark_line(color="black", strokeWidth=1.4).encode(x=X, y=Y))
    if soda:
        layers.append(alt.Chart(pts(soda)).mark_point(
            shape="circle", filled=True, fill=RED, stroke=BLUE, size=ssize, strokeWidth=bstroke, opacity=1
        ).encode(x=X, y=Y))
    if soda_line:
        layers.append(alt.Chart(pts(soda_line)).mark_line(color=RED, strokeWidth=1.4).encode(x=X, y=Y))
    if soda_text:
        layers.append(alt.Chart(txt(soda_text)).mark_text(
            align="left", baseline="alphabetic", font=FONT, fontSize=23, fontStyle="italic", color=RED
        ).encode(x=X, y=Y, text="t:N"))
    if label:
        layers.append(alt.Chart(txt(label)).mark_text(
            align="left", baseline="alphabetic", font=FONT, fontSize=23, color="black"
        ).encode(x=X, y=Y, text="t:N"))
    layers.append(alt.Chart(pd.DataFrame({"t": [letter]})).mark_text(
        align="left", baseline="alphabetic", font=FONT, fontSize=33, fontWeight="bold", color="black"
    ).encode(x=alt.value(letter_xy[0]), y=alt.value(letter_xy[1]), text="t:N"))
    return alt.layer(*layers).properties(width=width, height=height)


LOG2 = "Log\u2082 (fold change)"
PVAL = "-Log\u2081\u2080 (p-value)"
MEN = "Menadione " + LOG2
RLM = "\u0394rlmN " + LOG2

pa = panel("a", (-72, 6), 438, 296, [-2.5, 2.5], [0, 3], [-2, 0, 2], [0, 1, 2, 3],
           LOG2, PVAL, 5.75, 6.5, a_vlines, a_hlines,
           black=a_black + a_black_core, blue=a_blue, soda=a_soda, soda_line=a_soda_line,
           soda_text=a_soda_text, label=a_label)
pb = panel("b", (-76, 6), 430, 296, [-4, 4], [0, 4], [-4, -2, 0, 2, 4], [0, 1, 2, 3, 4],
           LOG2, PVAL, 5.75, 6.5, b_vlines, b_hlines,
           black=b_black + b_black_core, blue=b_blue + b_blue_core, soda=b_soda,
           soda_line=b_soda_line, soda_text=b_soda_text, label=b_label)
pc = panel("c", (-72, -8), 438, 295, [-4, 4], [-2.5, 2.5], [-4, -2, 0, 2, 4], [-2, 0, 2],
           MEN, RLM, 10, 5, c_vlines, c_hlines,
           black=c_points + c_core + c_left, fit=c_fit, label=c_label)
pd_ = panel("d", (-86, -7), 430, 295, [-3, 3], [-1.2, 1.2], [-2, 0, 2], [-1, 0, 1],
            MEN, RLM, 11.5, 5, d_vlines, d_hlines,
            blue=d_blue, soda=d_soda, fit=d_fit, soda_text=d_soda_text, label=d_label,
            bsize=125, ssize=125, bstroke=2)

row1 = alt.hconcat(pa, pb, spacing=93)
row2 = alt.hconcat(pc, pd_, spacing=83)
chart = alt.vconcat(row1, row2, spacing=34).properties(
    padding={"left": 6, "top": 4, "right": 0, "bottom": 0}
).configure(font=FONT).configure_view(
    stroke="black", strokeWidth=1.5
).configure_axis(
    grid=False, domainColor="black", domainWidth=1.5, tickColor="black", tickWidth=1.5,
    tickSize=7, labelFont=FONT, titleFont=FONT, labelFontSize=21, titleFontSize=23.5,
    labelColor="black", titleColor="black", titleFontWeight="normal"
).configure_axisX(
    labelPadding=10, minExtent=38, maxExtent=38
).configure_axisY(
    labelPadding=2.5, minExtent=30, maxExtent=30
)

chart.save("out.html", embed_options={"renderer": "svg", "actions": False})
